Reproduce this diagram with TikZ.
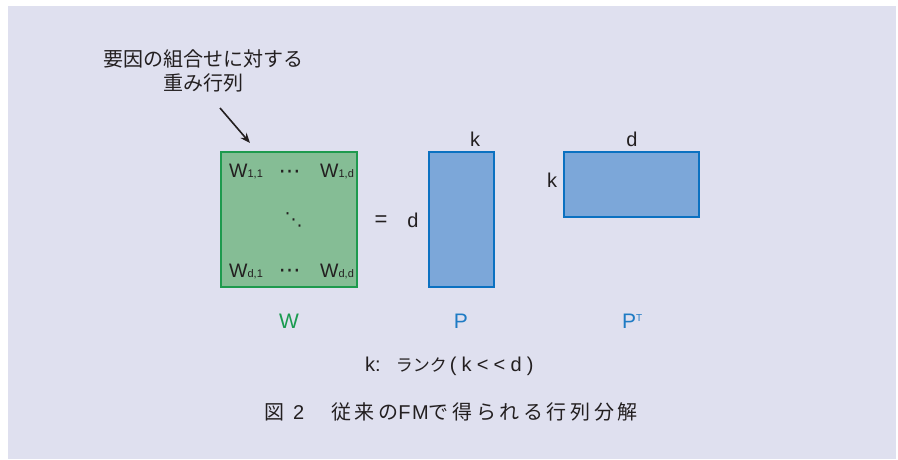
\documentclass[tikz,border=0pt]{standalone}
\usepackage{fontspec}
\setmainfont{Liberation Sans}
\newfontfamily\jp{Noto Sans CJK JP}
\newfontfamily\jpcap[LetterSpace=18]{Noto Sans CJK JP}
\newfontfamily\latcap[LetterSpace=8]{Liberation Sans}
\newfontfamily\latsp[LetterSpace=26]{Liberation Sans}
\newfontfamily\dvs{DejaVu Sans}
\usetikzlibrary{arrows.meta}
\definecolor{bgc}{HTML}{DFE0EF}
\definecolor{txt}{HTML}{231F20}
\definecolor{gfill}{HTML}{85BD95}
\definecolor{gline}{HTML}{1E9A4E}
\definecolor{bfill}{HTML}{7CA7D9}
\definecolor{bline}{HTML}{0B71C1}
\definecolor{glab}{HTML}{1A9B50}
\definecolor{blab}{HTML}{1E7BC4}
\tikzset{
  gmat/.style={draw=gline, fill=gfill, line width=2.4pt, inner sep=0pt},
  bmat/.style={draw=bline, fill=bfill, line width=2.4pt, inner sep=0pt},
  lbl/.style={inner sep=0pt, text=txt, font=\fontsize{20}{24}\selectfont},
  ent/.style={inner sep=0pt, anchor=base west, text=txt, font=\fontsize{19.5}{23}\selectfont},
  dotsn/.style={inner sep=0pt, text=txt, font=\fontsize{22}{24}\selectfont\dvs},
  capn/.style={inner sep=0pt, anchor=base, font=\fontsize{21}{25}\selectfont},
  plain/.style={inner sep=0pt, anchor=base west, text=txt},
}
\newcommand{\sbs}[1]{{\fontsize{11}{12}\selectfont #1}}
\begin{document}
\begin{tikzpicture}[x=1pt,y=-1pt]
\useasboundingbox (0,0) rectangle (898,459);
\fill[bgc] (8,6) rectangle (896,459);
% annotation
\node[inner sep=0pt, anchor=base, text=txt, font=\fontsize{20}{24}\selectfont\jp] (ann1) at (203,66) {要因の組合せに対する};
\node[inner sep=0pt, anchor=base, text=txt, font=\fontsize{20}{24}\selectfont\jp] (ann2) at (203.5,90) {重み行列};
\coordinate (astart) at (220,108);
\coordinate (aend) at (250,143);
\draw[line width=1.6pt, txt, -{Stealth[length=10pt,width=8pt]}] (astart) -- (aend);
% matrices
\node[gmat, minimum width=136pt, minimum height=135pt] (Wbox) at (289,219.5) {};
\node[bmat, minimum width=65pt, minimum height=135pt] (Pbox) at (461.5,219.5) {};
\node[bmat, minimum width=135pt, minimum height=65pt] (PTbox) at (631.5,184.5) {};
% entries
\node[ent] (w11) at (229,177) {W\sbs{1,1}};
\node[ent] (w1d) at (320,177) {W\sbs{1,d}};
\node[ent] (wd1) at (229,277) {W\sbs{d,1}};
\node[ent] (wdd) at (320,277) {W\sbs{d,d}};
\node[dotsn] (c1) at (289.5,174) {⋯};
\node[dotsn] (c2) at (289.5,273) {⋯};
\node[dotsn, font=\fontsize{18}{22}\selectfont\dvs] (c3) at (293.5,219.5) {⋱};
% equals and dims
\node[inner sep=0pt, text=txt, font=\fontsize{22}{24}\selectfont] (eq) at (381,221) {=};
\node[lbl, anchor=base] (dP) at (413,227) {d};
\node[lbl, anchor=base] (kP) at (475,146) {k};
\node[lbl, anchor=base] (dPT) at (632,146) {d};
\node[lbl, anchor=base] (kPT) at (552,187) {k};
% names
\node[capn, text=glab] (Wn) at (289,328) {W};
\node[capn, text=blab] (Pn) at (461,328) {P};
\node[capn, text=blab, anchor=base west] (PTn) at (622,328) {P\raisebox{6.5pt}{\fontsize{10}{10}\selectfont T}};
% rank line
\node[plain, font=\fontsize{20}{22}\selectfont] (rank) at (365,371)
  {k:\hspace{15pt}{\jp\fontsize{17}{20}\selectfont ランク}\hspace{3pt}{\latsp (k<<d)}};
% caption
\node[plain, font=\fontsize{20}{22}\selectfont] (capA) at (264,419)
  {{\jp 図}\hspace{9pt}2};
\node[plain, font=\fontsize{20}{22}\selectfont] (capB) at (331,419)
  {{\jpcap 従来の}{\latcap FM}{\jpcap で得られる行列分解}};
\end{tikzpicture}
\end{document}
